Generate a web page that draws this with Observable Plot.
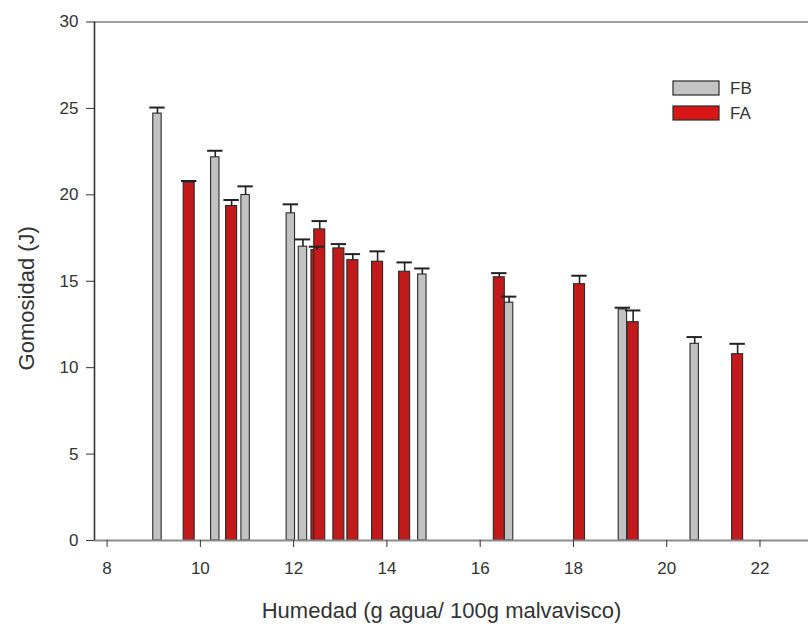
<!DOCTYPE html>
<html>
<head>
<meta charset="utf-8">
<script src="https://cdn.jsdelivr.net/npm/d3@7"></script>
<script src="https://cdn.jsdelivr.net/npm/@observablehq/plot@0.6"></script>
<style>
  html, body { margin: 0; padding: 0; background: #fff; }
  #chart { position: relative; width: 808px; height: 629px; }
</style>
</head>
<body>
<div id="chart"></div>
<script>
// Series FB (gray)
const fbX   = [9.08, 10.32, 10.97, 11.94, 12.20, 14.76, 16.62, 19.06, 20.60];
const fbVal = [24.70, 22.17, 19.99, 18.93, 17.00, 15.39, 13.76, 13.37, 11.38];
const fbErr = [0.35, 0.38, 0.50, 0.52, 0.42, 0.35, 0.35, 0.10, 0.39];
// Series FA (red)
const faX   = [9.76, 10.67, 12.50, 12.56, 12.97, 13.27, 13.80, 14.38, 16.41, 18.13, 19.28, 21.52];
const faVal = [20.70, 19.35, 16.80, 18.00, 16.90, 16.22, 16.13, 15.55, 15.23, 14.83, 12.63, 10.78];
const faErr = [0.10, 0.35, 0.20, 0.48, 0.25, 0.35, 0.60, 0.54, 0.24, 0.49, 0.68, 0.60];

const seriesNames = ["FB", "FA"];
const xTicks = [8, 10, 12, 14, 16, 18, 20, 22];
const yTicks = [0, 5, 10, 15, 20, 25, 30];
const xLabel = "Humedad (g agua/ 100g malvavisco)";
const yLabel = "Gomosidad (J)";

const colors = {FB: "#c2c2c2", FA: "#c21a1a"};
const legendColors = {FB: "#c4c4c4", FA: "#d91616"};
const halfW = {FB: 0.09, FA: 0.118};
const capHalf = 0.165;
const xDomain = [7.73, 23.04];
const yDomain = [0, 30];

const bars = [
  ...fbX.map((x, i) => ({s: "FB", x, v: fbVal[i], e: fbErr[i]})),
  ...faX.map((x, i) => ({s: "FA", x, v: faVal[i], e: faErr[i]}))
].sort((a, b) => a.x - b.x);

const plot = Plot.plot({
  width: 808,
  height: 629,
  marginLeft: 94,
  marginRight: 0,
  marginTop: 21.5,
  marginBottom: 89,
  style: {fontFamily: "'Liberation Sans', Arial, sans-serif", fontSize: "17px", color: "#333", background: "#fff"},
  x: {domain: xDomain, axis: null},
  y: {domain: yDomain, axis: null},
  marks: [
    Plot.ruleY([yDomain[1]], {stroke: "#a0a0a0", strokeWidth: 2}),
    Plot.rectY(bars, {
      x1: d => d.x - halfW[d.s], x2: d => d.x + halfW[d.s],
      y1: 0, y2: "v",
      fill: d => colors[d.s], stroke: "#2a2a2a", strokeWidth: 1.1
    }),
    Plot.ruleX(bars, {x: "x", y1: "v", y2: d => d.v + d.e, stroke: "#222", strokeWidth: 1.6}),
    Plot.ruleY(bars, {y: d => d.v + d.e, x1: d => d.x - capHalf, x2: d => d.x + capHalf, stroke: "#222", strokeWidth: 2}),
    Plot.ruleY([0], {stroke: "#8c8c8c", strokeWidth: 2}),
    Plot.ruleX([xDomain[0]], {stroke: "#333", strokeWidth: 1.6}),
    Plot.axisX({ticks: xTicks, tickSize: 7, tickPadding: 14, label: null, fontSize: 17, stroke: "#333"}),
    Plot.axisY({ticks: yTicks, tickSize: 8, tickPadding: 8, label: null, fontSize: 17, stroke: "#333"}),
    Plot.text([xLabel], {frameAnchor: "bottom", textAnchor: "middle", lineAnchor: "middle", dx: -10, dy: 70, fontSize: 22, fill: "#333"}),
    Plot.text([yLabel], {frameAnchor: "left", textAnchor: "middle", lineAnchor: "middle", rotate: -90, dx: -68, dy: 17, fontSize: 22, fill: "#333"})
  ]
});

// Legend (inside the plot area, top right)
const svg = d3.select(plot);
const lg = svg.append("g").attr("font-family", "'Liberation Sans', Arial, sans-serif").attr("font-size", 17).attr("text-anchor", "start");
seriesNames.forEach((name, i) => {
  const y0 = 81 + i * 25;
  lg.append("rect").attr("x", 673).attr("y", y0).attr("width", 46).attr("height", 14)
    .attr("fill", legendColors[name]).attr("stroke", "#2a2a2a").attr("stroke-width", 1.2);
  lg.append("text").attr("x", 730).attr("y", y0 + 7).attr("dy", "0.35em")
    .attr("text-anchor", "start").attr("fill", "#333").text(name);
});

document.getElementById("chart").appendChild(plot);
</script>
</body>
</html>
